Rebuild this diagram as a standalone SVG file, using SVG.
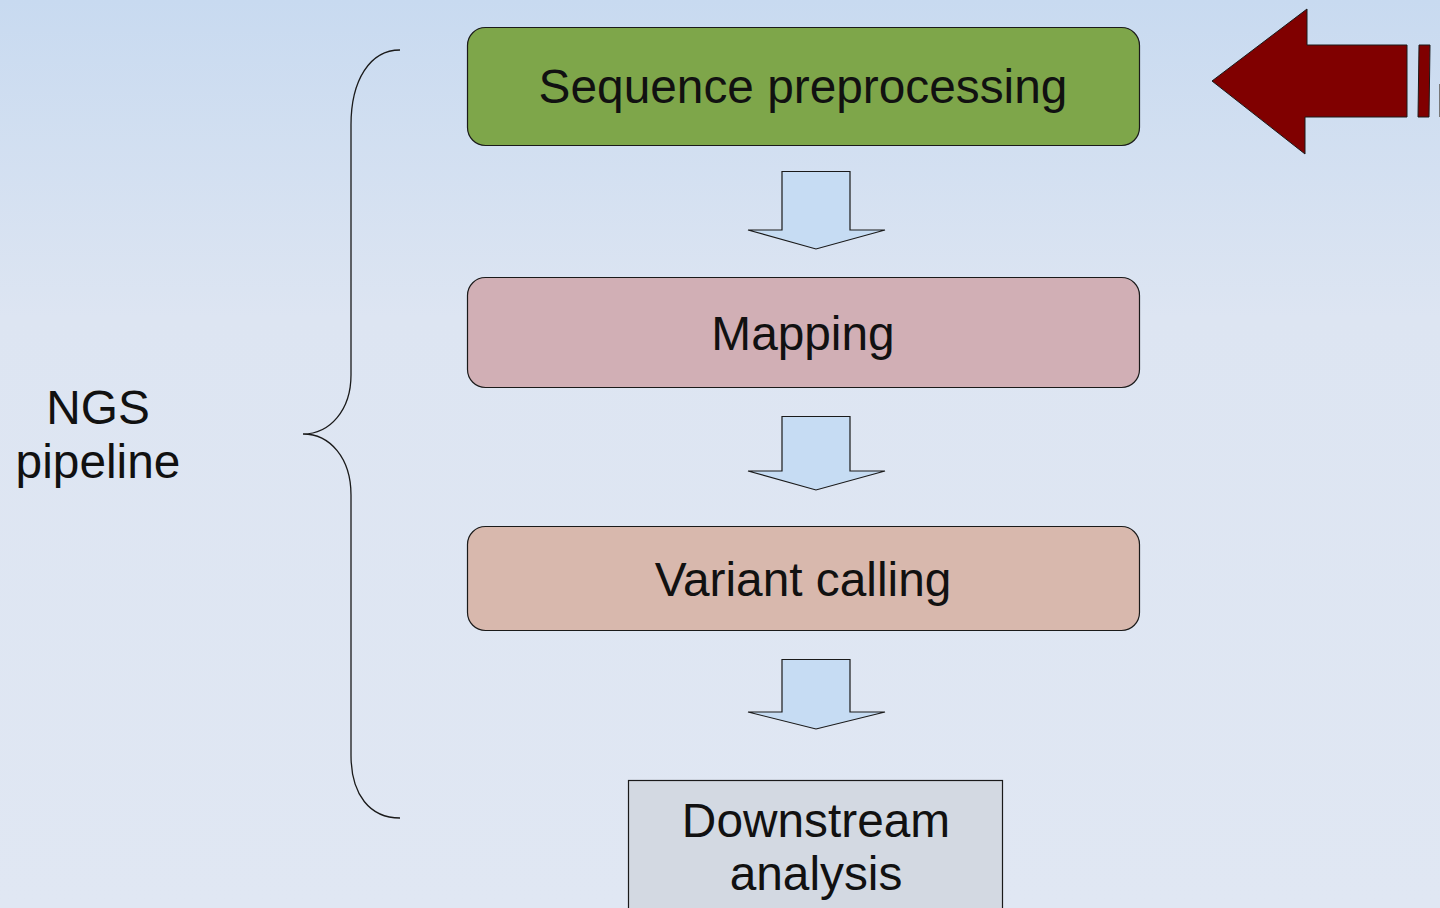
<svg xmlns="http://www.w3.org/2000/svg" width="1440" height="908" viewBox="0 0 1440 908">
<defs>
<linearGradient id="bg" x1="0" y1="0" x2="0" y2="1">
<stop offset="0" stop-color="#c8daf0"/>
<stop offset="0.35" stop-color="#dde5f2"/>
<stop offset="1" stop-color="#e0e7f3"/>
</linearGradient>
<style>
.box{stroke:#1a1a1a;stroke-width:1.2}
.lbl{font-family:"Liberation Sans",Arial,sans-serif;font-size:47.8px;fill:#111;text-anchor:middle}
.barrow{fill:#c6dcf3;stroke:#1a1a1a;stroke-width:1.2}
</style>
</defs>
<rect width="1440" height="908" fill="url(#bg)"/>
<g id="brace">
<path d="M400,50 C370,50 351,80 351,125 L351,375 C351,410 330,434 303,434 C330,434 351,458 351,495 L351,755 C351,795 370,818 400,818" fill="none" stroke="#1a1a1a" stroke-width="1.3"/>
</g>
<g id="ngs-label">
<text class="lbl" x="98" y="424">NGS</text>
<text class="lbl" x="98" y="478">pipeline</text>
</g>
<g id="node-preprocessing">
<rect class="box" x="467.5" y="27.5" width="672" height="118" rx="18" fill="#7ea64a"/>
<text class="lbl" x="803" y="103">Sequence preprocessing</text>
</g>
<g id="node-mapping">
<rect class="box" x="467.5" y="277.5" width="672" height="110" rx="18" fill="#d1afb5"/>
<text class="lbl" x="803" y="350">Mapping</text>
</g>
<g id="node-variant">
<rect class="box" x="467.5" y="526.5" width="672" height="104" rx="18" fill="#d8b8ad"/>
<text class="lbl" x="803" y="596">Variant calling</text>
</g>
<g id="node-downstream">
<rect class="box" x="628.5" y="780.5" width="374" height="140" fill="#d3d9e2"/>
<text class="lbl" x="816" y="837">Downstream</text>
<text class="lbl" x="816" y="890">analysis</text>
</g>
<g id="connectors">
<path class="barrow" d="M782,171.5 L850,171.5 L850,230 L885,230 L816,249 L748,230 L782,230 Z"/>
<path class="barrow" d="M782,416.5 L850,416.5 L850,471 L885,471 L816,490 L748,471 L782,471 Z"/>
<path class="barrow" d="M782,659.5 L850,659.5 L850,712 L885,712 L816,729 L748,712 L782,712 Z"/>
</g>
<g id="red-arrow">
<path d="M1212,81 L1307,9 L1307,45 L1407,45 L1407,117 L1305,117 L1305,154 Z" fill="#800000" stroke="#1a1a1a" stroke-width="1"/>
<path d="M1419,45 L1430,45 L1429,117 L1418,117 Z" fill="#800000" stroke="#1a1a1a" stroke-width="1"/>
<rect x="1439" y="84" width="2" height="33" fill="#777"/>
</g>
</svg>
